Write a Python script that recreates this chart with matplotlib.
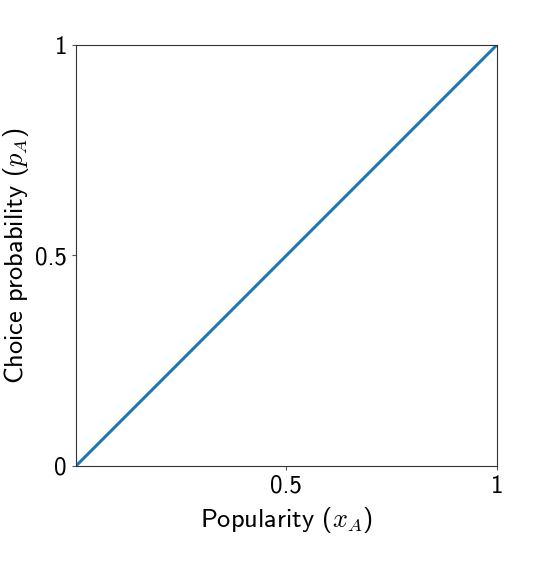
import matplotlib
matplotlib.use("Agg")
import matplotlib.pyplot as plt

# identity: choice probability equals popularity
popularity = [0.0, 1.0]
choice_prob = [0.0, 1.0]

x_ticks = [0.5, 1.0]
x_labels = ["0.5", "1"]
y_ticks = [0.0, 0.5, 1.0]
y_labels = ["0", "0.5", "1"]

plt.rcParams["font.family"] = ["cmss10", "DejaVu Sans"]
plt.rcParams["mathtext.fontset"] = "cm"
plt.rcParams["axes.unicode_minus"] = False

fig = plt.figure(figsize=(5.43, 5.62), dpi=100)
ax = fig.add_axes([0.140, 0.171, 0.775, 0.749])

ax.plot(popularity, choice_prob, color="#1f77b4", lw=2.2)

ax.set_xlim(0, 1)
ax.set_ylim(0, 1)
ax.set_xticks(x_ticks)
ax.set_xticklabels(x_labels)
ax.set_yticks(y_ticks)
ax.set_yticklabels(y_labels)
ax.tick_params(labelsize=18, length=3, color="#555555", width=0.8)
for s in ax.spines.values():
    s.set_color("#333333")
    s.set_linewidth(0.8)

ax.set_xlabel(r"Popularity ($x_A$)", fontsize=19, labelpad=5)
ax.set_ylabel(r"Choice probability ($p_A$)", fontsize=19, labelpad=3)

fig.savefig("out.png", dpi=100)
